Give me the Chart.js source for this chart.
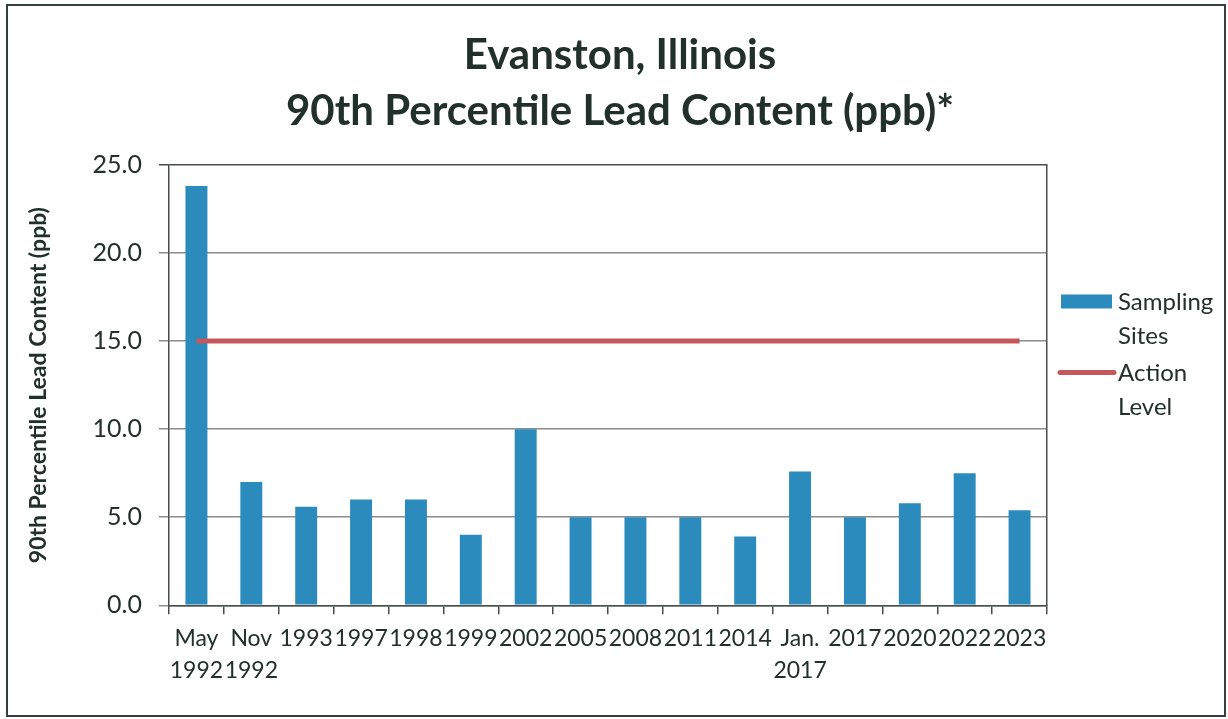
<!DOCTYPE html>
<html>
<head>
<meta charset="utf-8">
<title>Evanston, Illinois - 90th Percentile Lead Content</title>
<script src="https://cdn.jsdelivr.net/npm/chart.js@4.4.1/dist/chart.umd.min.js"></script>
<style>
  html, body { margin: 0; padding: 0; background: #fff; }
  #wrap { width: 1228px; height: 719px; }
</style>
</head>
<body>
<div id="wrap"><canvas id="chart-lead" width="1228" height="719"></canvas></div>
<script>
// values
var categories = [['May', '1992'], ['Nov', '1992'], '1993', '1997', '1998', '1999', '2002', '2005',
  '2008', '2011', '2014', ['Jan.', '2017'], '2017', '2020', '2022', '2023'];
var samplingSites = [23.8, 7.0, 5.6, 6.0, 6.0, 4.0, 10.0, 5.0, 5.0, 5.0, 3.9, 7.6, 5.0, 5.8, 7.5, 5.4];
var actionLevel = [15, 15, 15, 15, 15, 15, 15, 15, 15, 15, 15, 15, 15, 15, 15, 15];
var yTicks = [0, 5, 10, 15, 20, 25];
var titleLines = ['Evanston, Illinois', '90th Percentile Lead Content (ppb)*'];
var seriesNames = [['Sampling', 'Sites'], ['Action', 'Level']];

(function () {
  'use strict';

  var colors = {
    bar: '#2b8bbd',
    line: '#c6585d',
    text: '#22302c',
    grid: '#8c8c8c',
    axis: '#474d4b',
    frame: '#34403c'
  };
  var FONT = 'Lato, "Open Sans", sans-serif';

  // white page + thin frame around the whole figure
  var framePlugin = {
    id: 'frame',
    beforeDraw: function (chart) {
      var ctx = chart.ctx;
      ctx.save();
      ctx.fillStyle = '#fff';
      ctx.fillRect(0, 0, chart.width, chart.height);
      ctx.strokeStyle = colors.frame;
      ctx.lineWidth = 2;
      ctx.strokeRect(7, 5, chart.width - 10, chart.height - 8);
      ctx.restore();
    }
  };

  // legend on the right with wrapped labels, like the Excel original
  var sideLegend = {
    id: 'sideLegend',
    afterDraw: function (chart) {
      var ctx = chart.ctx;
      var area = chart.chartArea;
      var sw = area.right + 14;
      var tx = area.right + 71;
      var baselines = [area.top + 145, area.top + 216];
      var lineGap = 34;
      ctx.save();
      ctx.font = '24px ' + FONT;
      ctx.textBaseline = 'alphabetic';
      ctx.textAlign = 'left';
      chart.data.datasets.forEach(function (ds, i) {
        var b = baselines[i];
        var mid = b - 8.5;
        if (ds.type === 'line') {
          ctx.strokeStyle = ds.borderColor;
          ctx.lineWidth = ds.borderWidth;
          ctx.lineCap = 'round';
          ctx.beginPath();
          ctx.moveTo(sw - 1, mid);
          ctx.lineTo(sw + 53, mid);
          ctx.stroke();
        } else {
          ctx.fillStyle = ds.backgroundColor;
          ctx.fillRect(sw, mid - 7, 51, 14);
        }
        ctx.fillStyle = colors.text;
        seriesNames[i].forEach(function (t, k) {
          ctx.fillText(t, tx, b + k * lineGap);
        });
      });
      ctx.restore();
    }
  };

  var ctxEl = document.getElementById('chart-lead');
  new Chart(ctxEl, {
    type: 'bar',
    data: {
      labels: categories,
      datasets: [{
        type: 'bar',
        label: seriesNames[0].join(' '),
        data: samplingSites,
        backgroundColor: colors.bar,
        barPercentage: 0.4,
        categoryPercentage: 1.0,
        order: 1
      }, {
        type: 'line',
        label: seriesNames[1].join(' '),
        data: actionLevel,
        borderColor: colors.line,
        borderWidth: 5,
        pointRadius: 0,
        tension: 0,
        fill: false,
        order: 0
      }]
    },
    options: {
      responsive: false,
      animation: false,
      layout: { padding: { left: 20, right: 8, top: 0, bottom: 10 } },
      plugins: {
        legend: { display: false },
        tooltip: { enabled: false },
        title: {
          display: true,
          text: titleLines,
          color: colors.text,
          font: { family: FONT, size: 42, weight: 'bold', lineHeight: 1.333 },
          padding: { top: 27, bottom: 26 }
        }
      },
      scales: {
        x: {
          offset: true,
          grid: {
            offset: true,
            drawOnChartArea: false,
            color: colors.axis,
            tickLength: 9,
            lineWidth: 1.5
          },
          border: { color: colors.axis, width: 1.5 },
          ticks: {
            autoSkip: false,
            maxRotation: 0,
            minRotation: 0,
            padding: 8,
            color: colors.text,
            font: { family: FONT, size: 23, lineHeight: 1.4 }
          },
          afterFit: function (s) { s.height = 103.7; }
        },
        y: {
          min: 0,
          max: 25,
          afterBuildTicks: function (s) {
            s.ticks = yTicks.map(function (v) { return { value: v }; });
          },
          grid: {
            color: function (c) {
              return c.tick && c.tick.value === 25 ? colors.axis : colors.grid;
            },
            lineWidth: 1.5,
            tickLength: 10
          },
          border: { color: colors.axis, width: 1.5 },
          ticks: {
            padding: 17,
            color: colors.text,
            font: { family: FONT, size: 25 },
            callback: function (v) { return Number(v).toFixed(1); }
          },
          title: {
            display: true,
            text: '90th Percentile Lead Content (ppb)',
            color: colors.text,
            font: { family: FONT, size: 23, weight: 'bold', lineHeight: 1.2 },
            padding: { top: 5, bottom: 0 }
          },
          afterFit: function (s) { s.width = 149; }
        },
        // right-hand frame of the plot area; also keeps room for the legend
        yRight: {
          position: 'right',
          min: 0,
          max: 25,
          grid: { display: false },
          ticks: { display: false },
          border: { color: colors.axis, width: 1.5 },
          afterFit: function (s) { s.width = 173; }
        }
      }
    },
    plugins: [framePlugin, sideLegend]
  });
})();
</script>
</body>
</html>
